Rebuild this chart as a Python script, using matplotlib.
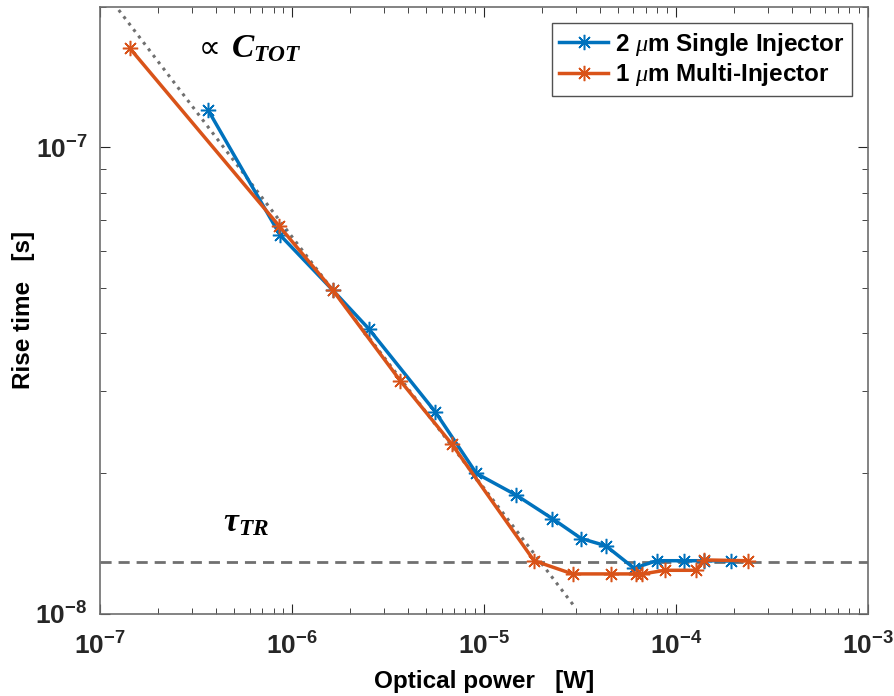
import numpy as np
import matplotlib
matplotlib.use('Agg')
import matplotlib.pyplot as plt
from matplotlib.ticker import FuncFormatter

plt.rcParams['font.family'] = ['Liberation Sans', 'DejaVu Sans']
plt.rcParams['mathtext.fontset'] = 'custom'
plt.rcParams['mathtext.rm'] = 'Liberation Sans'
plt.rcParams['mathtext.bf'] = 'Liberation Sans:bold'
plt.rcParams['mathtext.it'] = 'Liberation Serif:italic'
plt.rcParams['mathtext.bfit'] = 'Liberation Serif:italic:bold'
plt.rcParams['axes.unicode_minus'] = False

# 2 um single injector
x_single = [3.66e-7, 8.65e-7, 1.63e-6, 2.50e-6, 5.57e-6, 9.12e-6, 1.46e-5, 2.27e-5,
            3.21e-5, 4.30e-5, 6.04e-5, 7.93e-5, 1.10e-4, 1.40e-4, 1.93e-4]
y_single = [1.20e-7, 6.49e-8, 4.94e-8, 4.09e-8, 2.71e-8, 2.00e-8, 1.80e-8, 1.60e-8,
            1.45e-8, 1.40e-8, 1.253e-8, 1.30e-8, 1.30e-8, 1.30e-8, 1.30e-8]

# 1 um multi injector
x_multi = [1.43e-7, 8.57e-7, 1.63e-6, 3.66e-6, 6.80e-6, 1.82e-5, 2.89e-5, 4.56e-5,
           6.21e-5, 6.68e-5, 8.77e-5, 1.27e-4, 1.40e-4, 2.36e-4]
y_multi = [1.63e-7, 6.78e-8, 4.94e-8, 3.16e-8, 2.31e-8, 1.30e-8, 1.218e-8, 1.218e-8,
           1.218e-8, 1.218e-8, 1.24e-8, 1.24e-8, 1.305e-8, 1.30e-8]

# guide lines
x_ctot = [1.25e-7, 2.94e-5]
y_ctot = [1.97e-7, 1.04e-8]
tau_tr = 1.29e-8

blue = '#0072BD'
orange = '#D95319'
ast = (8, 2, 0)

fig, ax = plt.subplots(figsize=(8.94, 6.96), dpi=100)
fig.subplots_adjust(left=0.112, right=0.971, bottom=0.118, top=0.990)

ax.plot(x_ctot, y_ctot, ':', color='#707070', lw=2.2, zorder=1)
ax.axhline(tau_tr, color='#707070', ls=(0, (4, 2.5)), lw=2, zorder=1)

ax.plot(x_single, y_single, color=blue, lw=2.5, marker=ast, ms=11, mew=1.1,
        label=r'2 $\mu$m Single Injector', zorder=3)
ax.plot(x_multi, y_multi, color=orange, lw=2.5, marker=ast, ms=11, mew=1.1,
        label=r'1 $\mu$m Multi-Injector', zorder=3)

ax.set_xscale('log')
ax.set_yscale('log')
ax.set_xlim(1e-7, 1e-3)
ax.set_ylim(1e-8, 2e-7)

fmt = FuncFormatter(lambda v, p: r'$\mathbf{10^{%d}}$' % round(np.log10(v)))
ax.xaxis.set_major_formatter(fmt)
ax.yaxis.set_major_formatter(fmt)

ax.set_xlabel('Optical power   [W]', fontsize=17.5, fontweight='bold', labelpad=8)
ax.set_ylabel('Rise time   [s]', fontsize=17.5, fontweight='bold', labelpad=0)

ax.tick_params(which='both', direction='in', top=True, right=True, colors='#262626')
ax.tick_params(which='major', length=7, labelsize=19, pad=9)
ax.tick_params(axis='x', which='major', pad=13)
ax.tick_params(which='minor', length=4)
for s in ax.spines.values():
    s.set_color('#6e6e6e')
    s.set_linewidth(1.2)

ax.text(0.128, 0.932, '\u221d', transform=ax.transAxes, fontsize=22,
        ha='left', va='center', family=['DejaVu Sans'])
ax.text(0.170, 0.932, r'$\mathbfit{C}_{\mathbfit{TOT}}$', transform=ax.transAxes,
        fontsize=24, ha='left', va='center')
ax.text(0.160, 0.150, r'$\mathbfit{\tau}_{\mathbfit{TR}}$', transform=ax.transAxes,
        fontsize=24, ha='left', va='center')

leg = ax.legend(loc='upper right', bbox_to_anchor=(0.979, 0.973),
                prop={'weight': 'bold', 'size': 17.5}, fancybox=False,
                edgecolor='#262626', handlelength=2.0, borderpad=0.3,
                labelspacing=0.15, handletextpad=0.3, borderaxespad=0)
leg.get_frame().set_linewidth(1.0)

fig.savefig('out.png', dpi=100)
